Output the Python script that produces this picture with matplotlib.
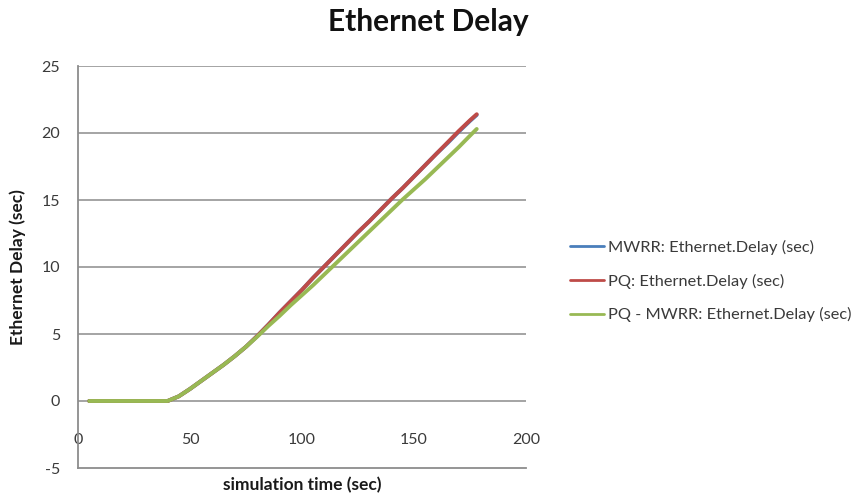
import matplotlib
matplotlib.use("Agg")
import matplotlib.pyplot as plt

plt.rcParams['font.family'] = ['Lato', 'DejaVu Sans']
plt.rcParams['axes.unicode_minus'] = False

# simulation time (sec)
time_s = [5, 10, 15, 20, 25, 30, 35, 40, 45, 50, 55, 60, 65, 70, 75, 80, 85,
          90, 95, 100, 105, 110, 115, 120, 125, 130, 135, 140, 145, 150, 155,
          160, 165, 170, 175, 178]

mwrr_delay = [0, 0, 0, 0, 0, 0, 0, 0, 0.35, 0.9, 1.5, 2.1, 2.7, 3.35, 4.05,
              4.85, 5.7, 6.6, 7.45, 8.3, 9.2, 10.05, 10.9, 11.75, 12.6, 13.4,
              14.25, 15.1, 15.9, 16.75, 17.6, 18.45, 19.25, 20.1, 20.9, 21.35]

pq_delay = [0, 0, 0, 0, 0, 0, 0, 0, 0.35, 0.9, 1.5, 2.1, 2.7, 3.35, 4.05,
            4.85, 5.7, 6.6, 7.45, 8.3, 9.2, 10.05, 10.9, 11.75, 12.6, 13.4,
            14.25, 15.1, 15.9, 16.75, 17.6, 18.45, 19.3, 20.15, 20.95, 21.4]

pq_mwrr_delay = [0, 0, 0, 0, 0, 0, 0, 0, 0.35, 0.9, 1.5, 2.1, 2.7, 3.35, 4.05,
                 4.8, 5.6, 6.35, 7.15, 7.9, 8.65, 9.45, 10.25, 11.05, 11.85,
                 12.65, 13.45, 14.25, 15.05, 15.8, 16.55, 17.35, 18.15, 18.95,
                 19.8, 20.3]

series_labels = ["MWRR: Ethernet.Delay (sec)",
                 "PQ: Ethernet.Delay (sec)",
                 "PQ - MWRR: Ethernet.Delay (sec)"]
x_ticks = [0, 50, 100, 150, 200]
y_ticks = [-5, 0, 5, 10, 15, 20, 25]

W, H = 856, 495
fig = plt.figure(figsize=(W / 100, H / 100), dpi=100)
ax_left, ax_right, ax_top, ax_bottom = 78, 526, 66, 468
ax = fig.add_axes([ax_left / W, 1 - ax_bottom / H,
                   (ax_right - ax_left) / W, (ax_bottom - ax_top) / H])

grid_col = '#8c8c8c'
for y in y_ticks[1:]:
    ax.axhline(y, color=grid_col, lw=1.1, zorder=1)
ax.axhline(-5, color=grid_col, lw=1.3, zorder=1, clip_on=False)

ax.plot(time_s, mwrr_delay, color='#4a7ebb', lw=2.8, label=series_labels[0],
        zorder=3, solid_capstyle='round', solid_joinstyle='round')
ax.plot(time_s, pq_delay, color='#be4b48', lw=2.8, label=series_labels[1],
        zorder=4, solid_capstyle='round', solid_joinstyle='round')
ax.plot(time_s, pq_mwrr_delay, color='#98b954', lw=2.8, label=series_labels[2],
        zorder=5, solid_capstyle='round', solid_joinstyle='round')

ax.set_xlim(0, 200)
ax.set_ylim(-5, 25)
ax.set_xticks(x_ticks)
ax.set_yticks(y_ticks)

for s in ['top', 'right']:
    ax.spines[s].set_visible(False)
ax.spines['left'].set_color(grid_col)
ax.spines['left'].set_linewidth(1.3)
ax.spines['bottom'].set_position(('data', 0))
ax.spines['bottom'].set_visible(False)

tick_col = '#3a3a3a'
ax.tick_params(axis='y', length=0, pad=13, labelsize=11.5, labelcolor=tick_col)
ax.tick_params(axis='x', length=0, pad=23, labelsize=11.5, labelcolor=tick_col)

fig.text(ax_left / W - 60 / W, 1 - 267 / H, "Ethernet Delay (sec)",
         rotation=90, ha='center', va='center', fontsize=12.5,
         fontweight='bold', color='#1a1a1a')
fig.text((ax_left + ax_right) / 2 / W, 1 - 485 / H, "simulation time (sec)",
         ha='center', va='center', fontsize=12.5, fontweight='bold',
         color='#1a1a1a')
fig.text(0.5, 1 - 22 / H, "Ethernet Delay", ha='center', va='center',
         fontsize=21.5, fontweight='bold', color='#111111')

leg = ax.legend(loc='center left', bbox_to_anchor=(563 / W, 1 - 281 / H),
                bbox_transform=fig.transFigure, frameon=False, fontsize=11.8,
                handlelength=2.1, handletextpad=0.25, labelspacing=1.15,
                borderaxespad=0)
for line in leg.get_lines():
    line.set_linewidth(2.0)
for t in leg.get_texts():
    t.set_color('#3a3a3a')

fig.savefig("out.png", dpi=100)
